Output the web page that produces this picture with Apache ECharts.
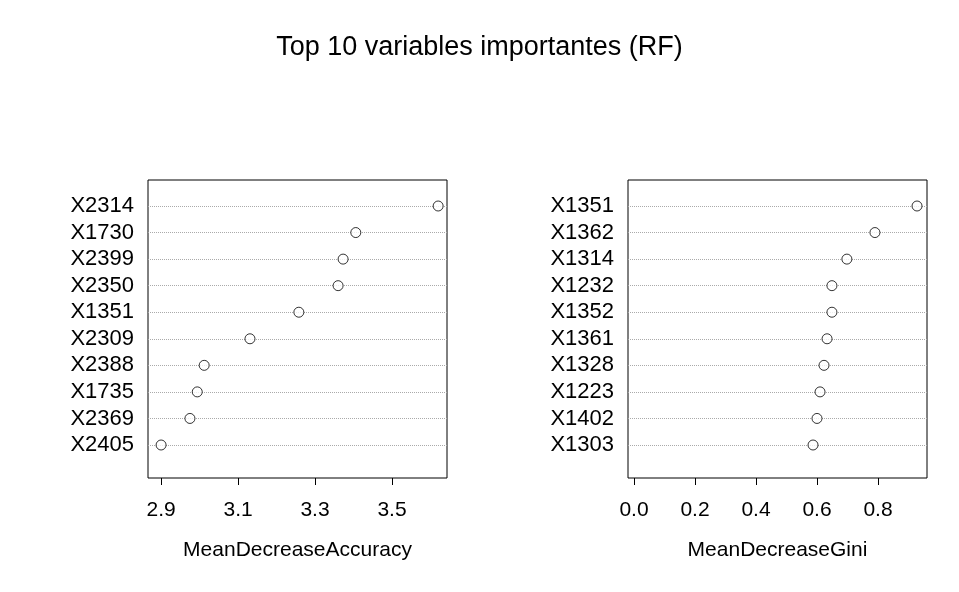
<!DOCTYPE html>
<html>
<head>
<meta charset="utf-8">
<script src="https://cdn.jsdelivr.net/npm/echarts@6/dist/echarts.min.js"></script>
<style>html,body{margin:0;background:#fff}#c{width:959px;height:592px}</style>
</head>
<body>
<div id="c"></div>
<script>
// données (ordre du haut vers le bas)
var accNames = ['X2314', 'X1730', 'X2399', 'X2350', 'X1351', 'X2309', 'X2388', 'X1735', 'X2369', 'X2405'];
var accValues = [3.62, 3.406, 3.373, 3.36, 3.258, 3.131, 3.012, 2.994, 2.975, 2.900];
var accTicks = [2.9, 3.1, 3.3, 3.5];

var giniNames = ['X1351', 'X1362', 'X1314', 'X1232', 'X1352', 'X1361', 'X1328', 'X1223', 'X1402', 'X1303'];
var giniValues = [0.928, 0.790, 0.698, 0.649, 0.649, 0.633, 0.623, 0.610, 0.600, 0.587];
var giniTicks = [0.0, 0.2, 0.4, 0.6, 0.8];

var font = 'Liberation Sans, Arial, sans-serif';
var chart = echarts.init(document.getElementById('c'));

function toPoints(vals) {
    return vals.map(function (v, i) { return [v, vals.length - i]; });
}

function panel(names, vals, ticks, xmin, xmax, left, right, name, idx) {
    var n = names.length;
    var frameGrid = { left: left, right: right, top: 180, bottom: 114, show: true, borderColor: '#000', borderWidth: 1, backgroundColor: 'transparent' };
    var dataGrid = { left: left, right: right, top: 206, bottom: 147 };
    var xs = [
        { gridIndex: idx * 2, type: 'value', min: xmin, max: xmax,
          name: name, nameLocation: 'middle', nameGap: 62,
          nameTextStyle: { fontFamily: font, fontSize: 21, color: '#000' },
          axisLine: { show: false }, splitLine: { show: false },
          axisTick: { show: true, length: 7, lineStyle: { color: '#000' }, customValues: ticks },
          axisLabel: { fontFamily: font, fontSize: 21, color: '#000', margin: 22, customValues: ticks,
                       formatter: function (v) { return v.toFixed(1); } } },
        { gridIndex: idx * 2 + 1, type: 'value', min: xmin, max: xmax, show: false }
    ];
    var ys = [
        { gridIndex: idx * 2, type: 'value', min: 0, max: 1, show: false },
        { gridIndex: idx * 2 + 1, type: 'value', min: 1, max: n, interval: 1,
          axisLine: { show: false }, axisTick: { show: false },
          splitLine: { show: true, lineStyle: { color: '#aaa', type: 'dotted', width: 1 } },
          axisLabel: { fontFamily: font, fontSize: 22, color: '#000', margin: 14,
                       formatter: function (v) { return names[n - v] || ''; } } }
    ];
    var s = {
        type: 'scatter', xAxisIndex: idx * 2 + 1, yAxisIndex: idx * 2 + 1,
        data: toPoints(vals), symbol: 'circle', symbolSize: 10,
        itemStyle: { color: '#fff', borderColor: '#000', borderWidth: 1 }
    };
    return { grids: [frameGrid, dataGrid], xs: xs, ys: ys, series: s };
}

var p1 = panel(accNames, accValues, accTicks, 2.866, 3.643, 148, 512, 'MeanDecreaseAccuracy', 0);
var p2 = panel(giniNames, giniValues, giniTicks, -0.0197, 0.9607, 628, 32, 'MeanDecreaseGini', 1);

chart.setOption({
    animation: false,
    title: { text: 'Top 10 variables importantes (RF)', left: 'center', top: 29,
             textStyle: { fontFamily: font, fontSize: 27, fontWeight: 'normal', color: '#000' } },
    grid: p1.grids.concat(p2.grids),
    xAxis: p1.xs.concat(p2.xs),
    yAxis: p1.ys.concat(p2.ys),
    series: [p1.series, p2.series]
});
</script>
</body>
</html>
